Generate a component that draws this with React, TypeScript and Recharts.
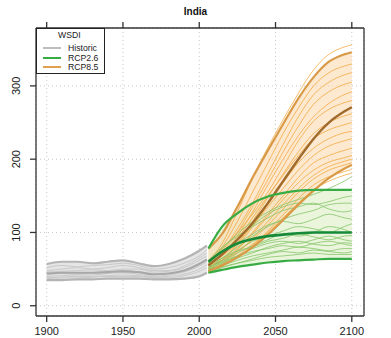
import React from 'react'
import { ComposedChart, Line, Area, XAxis, YAxis, CartesianGrid } from 'recharts'

// years
const histYears = [1900, 1910, 1920, 1930, 1940, 1950, 1960, 1970, 1980, 1990, 2000, 2005]
const futYears = [2006, 2015, 2025, 2035, 2045, 2055, 2065, 2075, 2085, 2095, 2100]

const xTicks = [1900, 1950, 2000, 2050, 2100]
const yTicks = [0, 100, 200, 300]

// historic ensemble
const histTop = [57, 60, 60, 58, 60, 62, 58, 54, 57, 64, 75, 82]
const histBottom = [35, 35, 36, 36, 37, 37, 37, 36, 36, 37, 40, 45]
const histMean = [44, 45, 45, 45, 46, 47, 46, 43, 44, 48, 57, 63]
const histRuns = [
  [52, 55, 53, 55, 56, 58, 55, 50, 52, 58, 68, 76],
  [48, 50, 52, 50, 52, 55, 52, 48, 48, 54, 65, 72],
  [46, 47, 48, 49, 48, 50, 50, 46, 47, 52, 62, 68],
  [42, 44, 43, 45, 46, 48, 46, 42, 44, 48, 58, 64],
  [40, 41, 42, 42, 44, 45, 43, 40, 42, 46, 54, 60],
  [38, 39, 40, 40, 41, 42, 41, 39, 40, 43, 50, 56],
  [37, 38, 38, 39, 40, 40, 40, 38, 38, 41, 47, 52],
]

// RCP8.5
const r85Upper = [78, 98, 135, 175, 212, 248, 283, 312, 333, 343, 346]
const r85Lower = [47, 55, 66, 80, 97, 117, 138, 157, 174, 187, 192]
const r85Mean = [55, 70, 90, 113, 140, 170, 200, 228, 250, 265, 271]
const r85Runs = [
  [60, 85, 128, 174, 216, 254, 290, 322, 343, 353, 356],
  [55, 80, 115, 155, 195, 235, 270, 300, 318, 327, 330],
  [58, 75, 105, 140, 180, 220, 258, 288, 305, 315, 318],
  [52, 72, 100, 135, 172, 210, 245, 275, 292, 302, 305],
  [50, 68, 95, 128, 165, 200, 232, 258, 276, 288, 292],
  [62, 78, 100, 125, 155, 190, 225, 252, 268, 277, 280],
  [48, 62, 85, 115, 148, 180, 210, 235, 250, 259, 262],
  [55, 70, 92, 120, 150, 178, 205, 228, 240, 247, 250],
  [50, 63, 82, 108, 138, 168, 195, 215, 228, 236, 238],
  [58, 68, 85, 110, 135, 160, 185, 205, 218, 225, 228],
  [45, 58, 76, 100, 125, 150, 175, 195, 205, 212, 215],
  [52, 62, 78, 98, 122, 145, 168, 185, 196, 202, 205],
  [48, 57, 72, 92, 115, 138, 160, 178, 190, 197, 200],
  [55, 62, 74, 90, 110, 132, 155, 173, 185, 192, 195],
  [46, 54, 66, 82, 102, 124, 146, 165, 176, 183, 186],
  [50, 56, 68, 84, 100, 120, 140, 158, 170, 178, 181],
]

// RCP2.6
const r26Upper = [78, 108, 126, 140, 149, 154, 157, 158, 158, 158, 158]
const r26Lower = [45, 49, 53, 56, 59, 61, 62, 63, 64, 64, 64]
const r26Mean = [60, 74, 85, 91, 95, 97, 99, 100, 100, 100, 100]
const r26Runs = [
  [58, 78, 98, 115, 128, 138, 145, 152, 160, 170, 176],
  [55, 72, 92, 110, 125, 135, 140, 138, 142, 148, 150],
  [62, 80, 95, 108, 120, 130, 135, 140, 132, 128, 130],
  [50, 65, 80, 95, 108, 118, 125, 130, 138, 140, 140],
  [58, 70, 85, 98, 110, 115, 112, 118, 125, 120, 118],
  [52, 62, 75, 88, 95, 102, 108, 105, 100, 108, 112],
  [48, 60, 72, 82, 90, 98, 95, 100, 108, 104, 100],
  [55, 65, 75, 80, 88, 92, 98, 94, 90, 95, 96],
  [50, 58, 68, 78, 85, 88, 85, 90, 95, 90, 88],
  [46, 56, 65, 72, 80, 85, 88, 84, 82, 86, 85],
  [53, 60, 68, 74, 78, 82, 80, 85, 88, 84, 82],
  [48, 55, 62, 68, 72, 76, 80, 78, 75, 78, 78],
  [45, 52, 58, 64, 70, 74, 72, 76, 74, 72, 74],
  [47, 53, 58, 62, 66, 68, 70, 72, 70, 70, 70],
]

type Row = { [k: string]: any }

const rows: Row[] = []
histYears.forEach((year, i) => {
  const r: Row = { year }
  r.histBand = [histBottom[i], histTop[i]]
  r.histTop = histTop[i]
  r.histBottom = histBottom[i]
  r.histMean = histMean[i]
  histRuns.forEach((s, k) => { r['h' + k] = s[i] })
  rows.push(r)
})
futYears.forEach((year, i) => {
  const r: Row = { year }
  r.r85Band = [r85Lower[i], r85Upper[i]]
  r.r85Upper = r85Upper[i]
  r.r85Lower = r85Lower[i]
  r.r85Mean = r85Mean[i]
  r.r26Band = [r26Lower[i], r26Upper[i]]
  r.r26Upper = r26Upper[i]
  r.r26Lower = r26Lower[i]
  r.r26Mean = r26Mean[i]
  r85Runs.forEach((s, k) => { r['o' + k] = s[i] })
  r26Runs.forEach((s, k) => { r['g' + k] = s[i] })
  rows.push(r)
})

const FONT = '"Liberation Sans", Arial, Helvetica, sans-serif'

const BottomTick = ({ x, y, payload }: any) => (
  <text x={x} y={y} dy={11} textAnchor="middle" fontSize={11} fill="#222" fontFamily={FONT}>
    {payload.value}
  </text>
)

const LeftTick = ({ x, y, payload }: any) => (
  <text x={x - 8} y={y} transform={`rotate(-90 ${x - 8} ${y})`} textAnchor="middle"
    fontSize={11} fill="#222" fontFamily={FONT}>
    {payload.value}
  </text>
)

const RightTick = ({ x, y, payload }: any) => (
  <text x={x + 15} y={y} transform={`rotate(-90 ${x + 15} ${y})`} textAnchor="middle"
    fontSize={11} fill="#222" fontFamily={FONT}>
    {payload.value}
  </text>
)

const NoTick = () => <g />

const common = { xAxisId: 'b', yAxisId: 'l', dot: false, isAnimationActive: false, connectNulls: true, type: 'monotone' as const }

export default function App() {
  const axisStroke = { stroke: '#333', strokeWidth: 1.3 }
  return (
    <div style={{ position: 'absolute', left: 0, top: 0, width: 391, height: 338, background: '#fff', fontFamily: FONT }}>
      <div style={{ position: 'absolute', left: 0, top: 6, width: 391, textAlign: 'center', fontSize: 10, fontWeight: 'bold', color: '#111' }}>
        India
      </div>
      <ComposedChart width={391} height={338} data={rows} margin={{ top: 0, right: 0, bottom: 0, left: 0 }}>
        <XAxis xAxisId="b" dataKey="year" type="number" domain={[1893, 2108]} ticks={xTicks}
          height={22} tickSize={6} tick={<BottomTick />} axisLine={axisStroke} tickLine={axisStroke} />
        <XAxis xAxisId="t" dataKey="year" type="number" domain={[1893, 2108]} ticks={xTicks}
          orientation="top" height={28} tickSize={6} tick={<NoTick />} axisLine={axisStroke} tickLine={axisStroke} />
        <YAxis yAxisId="l" type="number" domain={[-14, 379]} ticks={yTicks} width={36} tickSize={6}
          tick={<LeftTick />} axisLine={axisStroke} tickLine={axisStroke} />
        <YAxis yAxisId="r" orientation="right" type="number" domain={[-14, 379]} ticks={yTicks} width={27} tickSize={7}
          tick={<RightTick />} axisLine={axisStroke} tickLine={axisStroke} />
        <CartesianGrid xAxisId="b" yAxisId="l" stroke="#c8c8c8" strokeDasharray="1 3" />

        <Area {...common} dataKey="histBand" fill="#dedede" fillOpacity={0.8} stroke="none" />
        <Area {...common} dataKey="r26Band" fill="#dcefc4" fillOpacity={0.6} stroke="none" />
        <Area {...common} dataKey="r85Band" fill="#fbd9b0" fillOpacity={0.6} stroke="none" />

        {histRuns.map((_, k) => (
          <Line key={'h' + k} {...common} dataKey={'h' + k} stroke="#c9c9c9" strokeWidth={1} />
        ))}
        <Line {...common} dataKey="histTop" stroke="#b4b4b4" strokeWidth={2.2} />
        <Line {...common} dataKey="histBottom" stroke="#b4b4b4" strokeWidth={2.2} />
        <Line {...common} dataKey="histMean" stroke="#a8a8a8" strokeWidth={2.2} />

        {r85Runs.map((_, k) => (
          <Line key={'o' + k} {...common} dataKey={'o' + k} stroke="#f2a73a" strokeOpacity={0.75} strokeWidth={1} />
        ))}
        {r26Runs.map((_, k) => (
          <Line key={'g' + k} {...common} dataKey={'g' + k} stroke="#86c56a" strokeOpacity={0.8} strokeWidth={1} />
        ))}
        <Line {...common} dataKey="r85Upper" stroke="#d99a48" strokeWidth={2.2} />
        <Line {...common} dataKey="r85Lower" stroke="#d99a48" strokeWidth={2.2} />
        <Line {...common} dataKey="r85Mean" stroke="#a06a2c" strokeWidth={2.4} />
        <Line {...common} dataKey="r26Upper" stroke="#38ac44" strokeWidth={2.2} />
        <Line {...common} dataKey="r26Lower" stroke="#38ac44" strokeWidth={2.2} />
        <Line {...common} dataKey="r26Mean" stroke="#158a38" strokeWidth={2.6} />
      </ComposedChart>

      <div style={{ position: 'absolute', left: 36, top: 28, width: 67, height: 44, border: '1px solid #222', background: '#fff', fontSize: 8.7, color: '#222', lineHeight: '10px' }}>
        <div style={{ position: 'absolute', left: 21, top: 1 }}>WSDI</div>
        {[['Historic', '#bdbdbd', 14], ['RCP2.6', '#38ac44', 24], ['RCP8.5', '#e0a050', 33]].map(([name, color, top]) => (
          <div key={name as string} style={{ position: 'absolute', left: 0, top: top as number, width: 67, height: 10 }}>
            <div style={{ position: 'absolute', left: 6, top: 4, width: 18, height: 2, background: color as string }} />
            <div style={{ position: 'absolute', left: 31, top: 0 }}>{name}</div>
          </div>
        ))}
      </div>
    </div>
  )
}
